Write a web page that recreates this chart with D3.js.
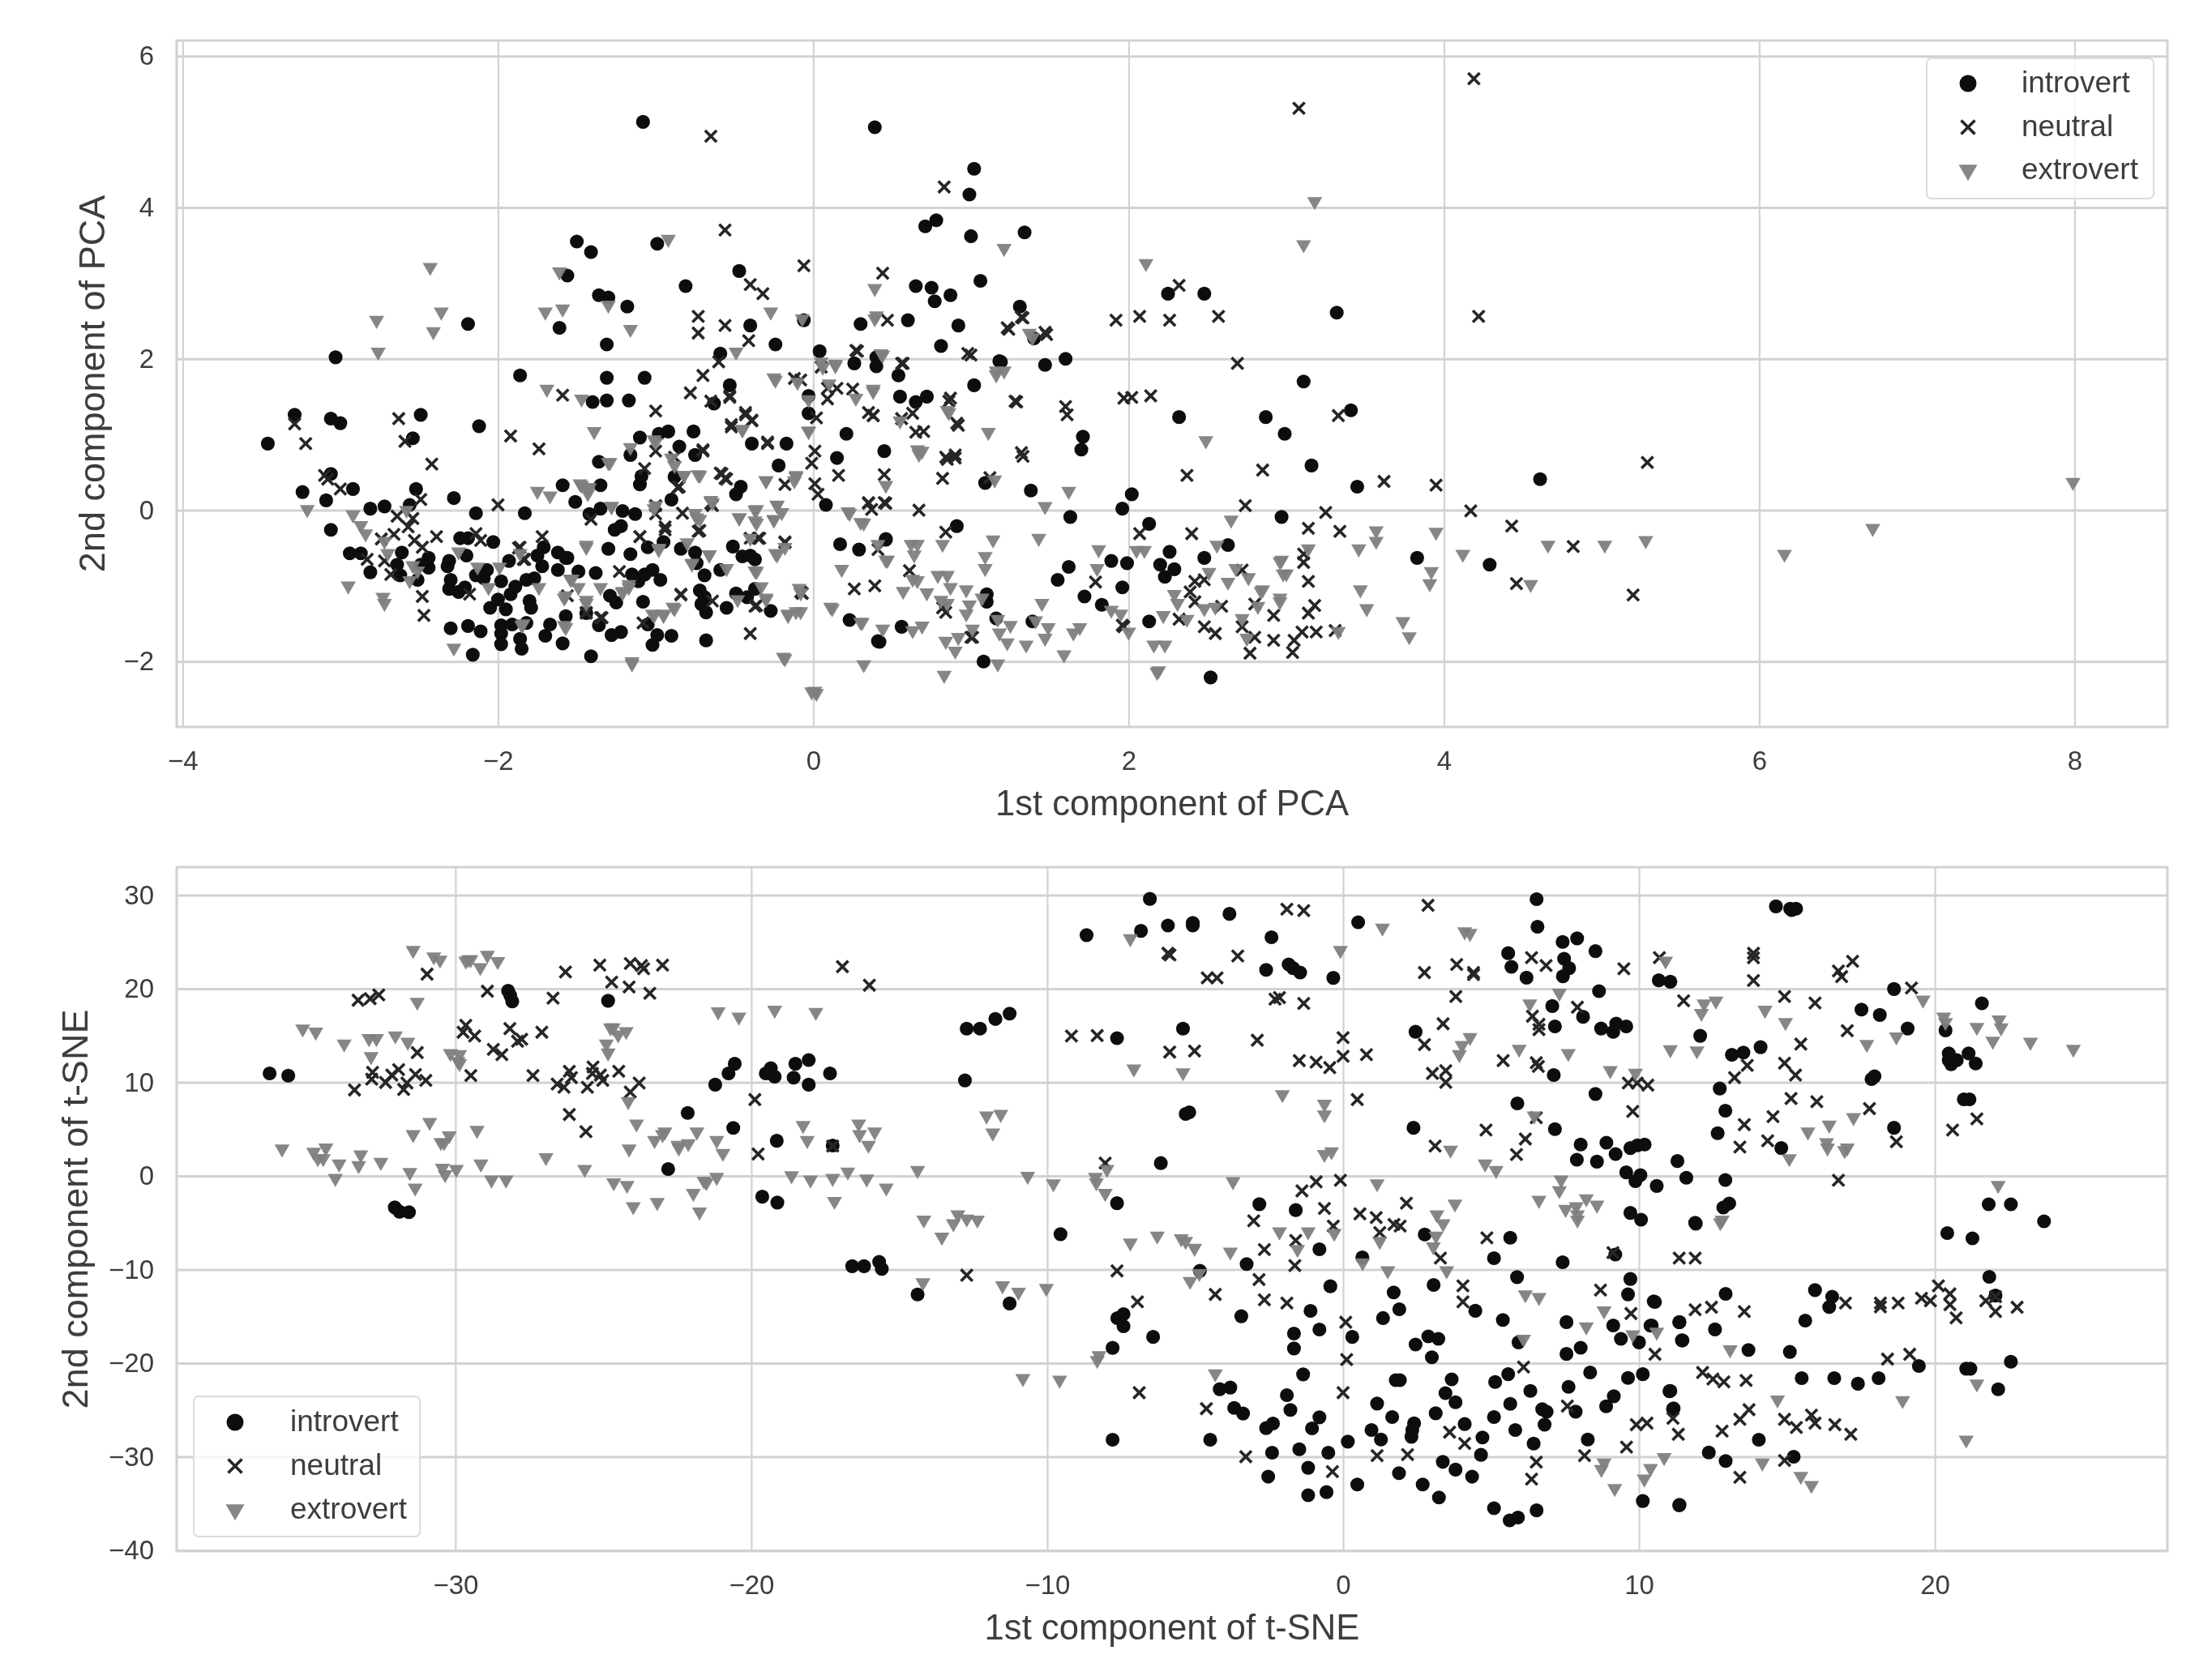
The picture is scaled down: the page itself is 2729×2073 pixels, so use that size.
<!DOCTYPE html>
<html>
<head>
<meta charset="utf-8">
<script src="https://cdn.jsdelivr.net/npm/d3@7"></script>
<style>
  html, body { margin: 0; padding: 0; background: #fff; }
  svg { display: block; filter: blur(0.7px); font-family: "Liberation Sans", Arial, sans-serif; }
</style>
</head>
<body>
<div id="chart"></div>
<script>
//********************************************************************//
//                    DATA
//********************************************************************//
var classNames = ["introvert", "neutral", "extrovert"];

var pcaXTicks = [-4, -2, 0, 2, 4, 6, 8];
var pcaYTicks = [-2, 0, 2, 4, 6];
var tsneXTicks = [-30, -20, -10, 0, 10, 20];
var tsneYTicks = [-40, -30, -20, -10, 0, 10, 20, 30];

var pcaIntrovert = [[-1.08,5.13],[-0.99,3.52],[-1.5,3.55],[-1.41,3.41],[-1.56,3.1],[-1.36,2.84],[-1.3,2.81],[-1.18,2.69],[-0.81,2.96],[-0.47,3.16],
[-2.19,2.46],[-1.61,2.41],[-1.31,2.19],[-0.4,2.44],[-0.24,2.19],[-0.59,2.07],[-3.03,2.02],[-1.86,1.78],[-1.31,1.75],[-1.07,1.75],[-0.53,1.65],[-1.4,1.43],
[-1.31,1.45],[-1.17,1.45],[-0.63,1.41],[-3.29,1.26],[-2.49,1.26],[-3.06,1.21],[-3,1.15],[-2.12,1.11],[-2.54,0.95],[-0.98,1.01],[-0.92,1.04],[-0.76,1.04],
[-1.1,0.96],[-0.39,0.88],[-0.17,0.88],[-3.46,0.88],[-0.85,0.84],[-1.16,0.73],[-0.75,0.73],[-1.36,0.64],[-0.22,0.59],[-3.06,0.48],[-1.09,0.45],[-0.88,0.44],
[-1.1,0.34],[-1.59,0.33],[-1.35,0.33],[-0.46,0.31],[-0.49,0.21],[-3.24,0.24],[-2.92,0.28],[-2.52,0.28],[-3.09,0.13],[-2.28,0.16],[-1.51,0.11],[-0.9,0.14],
[-2.81,0.02],[-2.72,0.05],[-2.56,0.07],[-2.14,-0.04],[-1.83,-0.04],[-1.35,0.02],[-1.42,-0.05],[-1.21,-0.01],[-1.13,-0.05],[-3.06,-0.26],[-1.22,-0.21],[-1.26,-0.26],
[-2.94,-0.57],[-2.87,-0.57],[-2.81,-0.82],[-2.61,-0.56],[-2.64,-0.72],[-2.62,-0.86],[-2.44,-0.63],[-2.44,-0.76],[-2.49,-0.72],[-2.51,-0.92],[-2.24,-0.37],[-2.19,-0.37],
[-2.03,-0.42],[-2.2,-0.6],[-2.31,-0.67],[-2.32,-0.74],[-2.3,-0.92],[-2.31,-1.04],[-2.25,-1.08],[-2.21,-1.02],[-2.14,-0.86],[-2.07,-0.79],[-2.09,-0.9],[-1.93,-0.67],
[-1.98,-0.94],[-2.05,-1.29],[-1.95,-1.31],[-2,-1.18],[-1.92,-1.11],[-1.89,-1.01],[-1.79,-1.29],[-1.8,-1.2],[-1.82,-0.92],[-1.77,-0.9],[-1.72,-0.74],[-1.75,-0.6],
[-1.71,-0.49],[-1.62,-0.56],[-1.57,-0.63],[-1.62,-0.79],[-1.57,-1.4],[-1.67,-1.51],[-1.7,-1.66],[-1.59,-1.76],[-2.3,-1.56],[-2.19,-1.53],[-2.11,-1.6],[-1.98,-1.52],
[-1.91,-1.51],[-1.98,-1.63],[-1.98,-1.77],[-1.86,-1.7],[-1.85,-1.83],[-2.16,-1.91],[-1.82,-1.49],[-1.3,-0.51],[-1.16,-0.58],[-1.05,-0.49],[-0.95,-0.42],[-0.84,-0.51],
[-0.75,-0.56],[-0.74,-0.7],[-0.51,-0.48],[-0.4,-0.6],[-0.37,-0.65],[-0.45,-0.61],[-0.59,-0.79],[-0.69,-0.86],[-1.49,-0.81],[-1.38,-0.83],[-1.56,-0.63],[-1.15,-0.85],
[-1.11,-0.94],[-1.07,-0.85],[-1.02,-0.79],[-0.97,-0.92],[-1.29,-1.13],[-1.25,-1.22],[-1.08,-1.21],[-0.72,-1.06],[-0.69,-1.15],[-0.71,-1.24],[-0.68,-1.35],[-0.55,-1.29],
[-0.49,-1.1],[-0.42,-1.15],[-0.37,-1.04],[-0.27,-1.33],[-1.44,-1.36],[-1.36,-1.52],[-1.28,-1.65],[-1.22,-1.61],[-1.05,-1.51],[-0.99,-1.65],[-1.02,-1.78],[-0.9,-1.66],
[-0.68,-1.72],[-1.41,-1.93],[0.17,-0.45],[0.29,-0.52],[0.46,-0.38],[0.08,0.07],[0.23,-1.45],[0.41,-1.73],[0.15,0.69],[-0.06,2.51],[0.04,2.1],[0.26,1.94],
[0.4,2.02],[0.4,1.9],[0.54,1.78],[0.3,2.46],[0.6,2.51],[0.65,2.96],[0.75,2.94],[0.77,2.76],[0.87,2.84],[0.92,2.44],[0.81,2.17],[1.06,3.03],
[1,3.62],[1.34,3.67],[0.71,3.75],[0.78,3.83],[1.31,2.69],[1.4,2.27],[1.18,1.97],[1.47,1.92],[1.02,1.65],[-0.03,1.51],[-0.03,1.28],[0.55,1.5],
[0.65,1.43],[0.72,1.5],[0.21,1.01],[0.45,0.78],[0.39,5.06],[1.02,4.51],[0.99,4.17],[3.32,2.61],[2.48,2.86],[2.25,2.86],[1.19,1.96],[1.6,2],
[3.11,1.7],[3.41,1.32],[2.32,1.23],[2.87,1.23],[2.99,1.01],[1.71,0.97],[1.7,0.8],[3.16,0.59],[4.61,0.41],[3.45,0.31],[2.02,0.21],[1.96,0.02],
[2.13,-0.18],[1.63,-0.09],[2.97,-0.09],[0.91,-0.21],[1.38,0.26],[1.09,0.36],[2.63,-0.46],[0.46,-0.39],[2.26,-0.55],[2.48,-0.63],[1.89,-0.67],[1.99,-0.7],
[2.2,-0.72],[2.29,-0.78],[2.23,-0.88],[1.62,-0.75],[1.55,-0.92],[1.96,-1.02],[1.72,-1.14],[1.83,-1.25],[1.1,-1.21],[1.16,-1.43],[1.39,-1.47],[2.13,-1.47],
[3.83,-0.63],[4.29,-0.72],[2.52,-2.21],[1.08,-2],[0.56,-1.54],[0.42,-1.74],[1.1,-1.11]];

var pcaNeutral = [[-0.65,4.94],[-0.56,3.7],[-0.4,2.98],[-0.32,2.86],[-0.06,3.23],[-0.73,2.56],[-0.73,2.34],[-0.56,2.44],[-0.41,2.24],[-0.6,1.96],
[-0.7,1.78],[-0.78,1.55],[-0.53,1.49],[-1,1.31],[-0.43,1.26],[-0.39,1.18],[-0.52,1.1],[-3.29,1.14],[-3.22,0.88],[-2.63,1.21],[-2.59,0.91],[-1.92,0.98],
[-1.74,0.81],[-2.42,0.61],[-1.59,1.52],[-0.29,0.88],[-0.7,0.78],[-1,0.78],[-1.07,0.55],[-0.58,0.48],[-0.55,0.41],[-0.18,0.34],[-0.85,0.31],[-3.08,0.41],
[-3,0.28],[-2.49,0.14],[-2,0.07],[-1,0.06],[-0.83,-0.04],[-0.65,0.09],[-1.41,-0.12],[-1,-0.05],[-0.73,-0.28],[-0.94,-0.26],[-1.1,-0.35],[-0.35,-0.37],
[-0.4,-0.37],[-2.39,-0.35],[-1.72,-0.35],[-0.18,-0.43],[-1.87,-0.5],[-1.84,-0.65],[-1.23,-0.81],[-0.84,-1.12],[-1.44,-1.36],[-1.34,-1.42],[-1.08,-1.49],[-0.4,-1.63],
[-0.36,-1.26],[-0.08,-1.08],[-3.1,0.46],[-2.64,-0.08],[-2.54,-0.11],[-2.57,-0.22],[-2.66,-0.32],[-2.74,-0.38],[-2.53,-0.4],[-2.48,-0.49],[-2.83,-0.65],[-2.72,-0.67],
[-2.68,-0.85],[-2.48,-1.14],[-2.47,-1.39],[-2.14,-0.31],[-2.11,-0.4],[-2.18,-1.11],[-1.86,-0.49],[-1.83,-0.65],[-0.86,0.3],[-0.59,0.49],[-0.56,0.42],[-0.01,0.62],
[0.01,0.35],[0.03,0.21],[0.16,0.46],[0.35,0.1],[0.37,0.01],[0.45,0.1],[0.45,0.47],[0.41,-0.52],[-0.64,0.06],[-0.94,-0.22],[-1.1,-0.35],[-0.72,-0.27],
[-0.34,-0.37],[-0.18,-0.42],[-0.84,-1.11],[-0.07,-1.1],[-0.37,-1.27],[-1.35,-1.42],[-1.44,-1.35],[-1.56,-1.13],[-0.64,-1.2],[0.26,-1.04],[0.39,-1],[-0.12,1.74],
[-0.08,1.72],[0.05,1.89],[0.27,2.11],[0.44,3.13],[0.47,2.51],[0.56,1.94],[0.98,2.07],[1.23,2.41],[1.32,2.55],[1.47,2.35],[0.87,1.48],[1.28,1.44],
[0.91,1.15],[0.15,1.61],[0.09,1.61],[0.09,1.47],[0.25,1.6],[0.35,1.29],[0.38,1.25],[0.63,1.28],[0.56,1.21],[0.65,1.03],[0.7,1.04],[0.02,1.22],
[-0.43,1.29],[-0.39,1.19],[-0.52,1.13],[-0.65,1.44],[-0.53,1.51],[-0.29,0.9],[-0.7,0.8],[0.01,0.78],[-0.88,0.7],[0.84,0.7],[0.9,0.73],[1.32,0.76],
[4.19,5.7],[3.08,5.31],[0.83,4.27],[2.32,2.97],[1.24,2.39],[1.33,2.54],[1.48,2.32],[1.92,2.51],[2.07,2.56],[2.26,2.51],[2.57,2.56],[4.22,2.56],
[2.69,1.94],[1,2.05],[1.29,1.43],[1.6,1.37],[1.61,1.26],[1.97,1.48],[2.02,1.49],[2.14,1.51],[3.33,1.25],[0.92,1.12],[0.86,1.44],[0.38,1.25],
[2.85,0.53],[2.37,0.46],[3.62,0.38],[3.95,0.33],[5.29,0.63],[2.74,0.06],[3.25,-0.03],[4.17,-0.01],[4.43,-0.21],[3.14,-0.24],[3.34,-0.28],[2.4,-0.31],
[2.07,-0.31],[4.82,-0.48],[4.46,-0.97],[5.2,-1.12],[0.82,0.42],[1.12,0.43],[0.67,0],[0.35,0.09],[0.46,0.09],[0.57,1.94],[0.28,2.1],[1.79,-0.95],
[1.97,-1.54],[0.82,-1.29],[1,-1.68],[0.61,-0.8],[2.42,-0.94],[2.48,-0.92],[2.39,-1.08],[2.42,-1.21],[2.48,-1.54],[2.55,-1.63],[2.8,-1.68],[2.77,-1.89],
[2.92,-1.72],[3.04,-1.88],[3.05,-1.72],[3.1,-1.61],[3.19,-1.61],[3.31,-1.59],[2.92,-1.39],[2.8,-1.24],[3.18,-1.26],[3.14,-1.36],[3.14,-0.94],[3.11,-0.69],
[3.11,-0.58],[2.72,-1.54],[1.96,-1.52],[0.85,0.67],[0.9,0.69],[1.33,0.71],[0.84,-0.29],[2.32,-1.44],[2.59,-1.27],[2.72,-0.79],[0.84,-1.35],[1.01,-1.68]];

var pcaExtrovert = [[-2.43,3.22],[-0.92,3.59],[-1.61,3.16],[-2.77,2.52],[-2.36,2.63],[-2.41,2.37],[-2.76,2.1],[-1.7,2.63],[-1.59,2.67],[-1.3,2.72],
[-1.16,2.4],[-0.27,2.63],[-0.07,2.54],[-0.49,2.1],[-1.69,1.61],[-1.47,1.48],[-0.24,1.73],[-0.1,1.7],[-0.45,1.07],[-1.39,1.05],[-1.16,0.84],[-1,0.91],
[-1.3,0.64],[-0.82,0.47],[-0.73,0.48],[-0.9,0.7],[-0.3,0.4],[-0.11,0.45],[-0.03,1.05],[-1.75,0.26],[-1.67,0.2],[-1.47,0.34],[-1.42,0.31],[-1.43,0.23],
[-3.21,0.02],[-1.28,0.06],[-1,0.07],[-0.64,0.11],[-0.47,-0.09],[-0.36,0.02],[-0.36,-0.16],[-0.23,0.07],[-0.25,-0.12],[-0.74,-0.09],[-2.92,-0.05],[-2.87,-0.19],
[-2.84,-0.3],[-2.95,-0.99],[-2.73,-1.14],[-2.72,-1.22],[-1.44,-0.48],[-0.66,-0.58],[-0.23,-0.58],[-0.18,-0.48],[-0.36,-0.8],[-0.3,-1.15],[-0.77,-0.69],[-0.98,-0.51],
[-1.54,-0.9],[-1.57,-1.12],[-1.57,-1.54],[-1.44,-1.22],[-1.21,-1.08],[-1.17,-1.01],[-1.02,-1.36],[-0.95,-1.36],[-0.88,-1.29],[-1.85,-1.51],[-2.28,-1.81],[-1.15,-2.02],
[-0.18,-1.95],[-0.01,-2.39],[-0.16,-1.38],[-0.08,-1.33],[-0.08,-1.08],[-2.58,0.01],[-2.72,-0.4],[-2.7,-0.56],[-2.54,-0.72],[-2.51,-0.79],[-2.56,-0.92],[-2.25,-0.54],
[-1.99,-0.74],[-1.86,-0.56],[-2.13,-0.74],[-2.06,-1.01],[-1.84,-1.49],[-1.58,-1.51],[-1.74,-1.01],[-1.53,-0.9],[-1.58,-1.15],[-1.29,0.64],[-1.48,0.36],[-1.43,0.31],
[-1.43,0.26],[-1.28,0.06],[-1.01,0.03],[-0.88,0.6],[-0.82,0.47],[-0.72,0.47],[-0.75,-0.03],[-0.72,-0.11],[-0.65,0.14],[-0.47,-0.09],[-0.37,0.01],[-0.37,-0.13],
[-0.23,0.08],[-0.2,-0.02],[-0.25,-0.11],[-0.3,0.4],[-0.11,0.47],[-0.12,0.4],[-1.44,-0.45],[-0.98,-0.49],[-0.8,-0.42],[-0.66,-0.58],[-0.77,-0.7],[-0.4,-0.36],
[-0.24,-0.56],[-0.55,-0.76],[-0.37,-0.79],[-0.33,-1],[-0.3,-1.17],[-1.54,-0.9],[-1.49,-1.01],[-1.44,-1.18],[-1.35,-1.01],[-1.17,-0.97],[-1.21,-1.06],[-0.89,-1.27],
[-1.01,-1.38],[-0.95,-1.38],[-0.48,-1.17],[-0.16,-1.36],[-0.11,-1.33],[-0.09,-1.02],[-1.15,-1.99],[-0.19,-1.93],[0.01,-2.38],[0.11,-1.27],[0.18,-0.77],[0.3,-0.15],
[0.22,-0.01],[0.3,-1.47],[0.44,-1.56],[0.46,-0.65],[0.41,-0.44],[-0.25,1.76],[0.39,2.94],[0.4,2.58],[0.05,1.97],[0.14,1.94],[0.43,2.08],[1.21,3.47],
[1.37,2.35],[1.16,1.85],[1.21,1.85],[0.38,1.61],[0.1,1.68],[-0.03,1.47],[0.27,1.49],[0.85,1.33],[1.11,1.04],[-0.03,1.06],[-0.45,1.08],[-1.01,0.94],
[0.66,0.81],[0.69,0.79],[3.18,4.09],[3.11,3.52],[2.11,3.27],[0.39,2.54],[1.39,2.29],[0.44,2.06],[0.14,1.92],[0.06,1.9],[1.16,1.8],[0.38,1.58],
[0.86,1.3],[0.55,1.19],[2.49,0.93],[0.67,0.75],[0.46,0.34],[1.15,0.41],[1.62,0.26],[1.47,0.06],[0.23,-0.03],[0.32,-0.16],[2.65,-0.12],[2.56,-0.45],
[3.14,-0.5],[3.57,-0.26],[3.57,-0.4],[3.46,-0.5],[3.95,-0.28],[4.12,-0.57],[4.66,-0.45],[5.02,-0.45],[5.28,-0.39],[6.16,-0.57],[6.72,-0.23],[7.99,0.38],
[4.55,-0.97],[3.92,-0.8],[3.91,-0.96],[3.47,-1.04],[3.51,-1.29],[3.74,-1.46],[3.78,-1.66],[3.33,-1.59],[2.97,-0.65],[3,-0.83],[2.96,-1.15],[2.85,-1.04],
[1.14,-0.38],[1.43,-0.36],[0.62,-0.44],[0.66,-0.44],[0.64,-0.58],[0.82,-0.44],[0.47,-0.65],[1.09,-0.6],[1.09,-0.76],[1.81,-0.51],[1.8,-0.76],[2.05,-0.52],
[2.1,-0.52],[0.79,-0.85],[0.85,-0.85],[0.87,-1.01],[0.63,-0.9],[0.66,-0.92],[0.57,-1.06],[0.72,-1.08],[0.81,-1.18],[0.85,-1.22],[0.97,-1.04],[1.07,-1.15],
[0.99,-1.24],[0.97,-1.36],[1.45,-1.22],[1.17,-1.43],[1.25,-1.51],[1.18,-1.61],[1.23,-1.74],[1.41,-1.45],[1.49,-1.54],[1.47,-1.68],[1.35,-1.77],[1.59,-1.9],
[1.69,-1.54],[1.65,-1.61],[1.01,-1.56],[0.84,-1.72],[0.92,-1.67],[0.9,-1.85],[0.63,-1.58],[0.69,-1.52],[1.17,-2.02],[0.83,-2.17],[2.19,-2.11],[2.16,-1.77],
[2.23,-1.77],[2.22,-1.38],[2,-1.6],[1.89,-1.31],[1.95,-1.36],[2.29,-1.1],[2.31,-1.22],[2.37,-1.43],[2.48,-1.29],[2.55,-1.27],[2.51,-0.81],[2.63,-0.94],
[2.68,-0.76],[2.76,-0.88],[2.84,-1.06],[2.82,-1.26],[2.96,-0.67],[2.98,-0.83],[2.96,-1.2],[2.72,-1.42],[2.75,-1.68],[2.18,-2.13],[0.32,-2.03],[0.02,-2.41],
[0.12,-1.29],[0.31,-1.47]];

var tsneIntrovert = [[-36.28,10.95],[-35.65,10.72],[-32.05,-3.37],[-31.89,-3.82],[-31.57,-3.88],[-28.22,19.79],[-28.15,19.3],[-28.08,18.65],[-24.84,18.71],[-22.81,0.74],
[-22.15,6.73],[-21.22,9.75],[-20.77,10.95],[-20.56,11.98],[-20.61,5.13],[-19.14,3.76],[-19.63,-2.22],[-19.12,-2.85],[-19.51,10.95],[-19.34,11.52],[-19.21,10.61],[-18.57,10.5],
[-18.51,11.98],[-18.06,12.38],[-18.06,9.75],[-17.34,10.95],[-17.25,3.25],[-12.72,15.74],[-12.27,15.74],[-11.75,16.77],[-11.27,17.34],[-12.78,10.21],[-16.59,-9.64],[-16.19,-9.64],
[-15.68,-9.18],[-15.59,-9.93],[-14.38,-12.66],[-11.27,-13.63],[-9.55,-6.22],[-6.16,1.37],[-5.32,6.62],[-5.2,6.8],[-7.64,14.72],[-5.41,15.74],[-8.67,25.73],[-6.83,26.18],
[-6.53,29.6],[-5.92,26.75],[-5.08,27.04],[-5.08,26.75],[-3.84,28],[-2.42,25.5],[-2.6,22.02],[-1.84,22.6],[-1.69,22.2],[-1.45,21.73],[-0.33,21.16],[0.51,27.1],
[-7.64,-2.91],[-7.63,-15.2],[-7.42,-14.76],[-7.42,-16.06],[-6.42,-17.2],[-7.79,-18.37],[-7.79,-28.18],[-4.84,-10.14],[-3.26,-9.42],[-2.83,-3.02],[-1.6,-3.65],[-0.8,-7.84],
[-0.43,-11.79],[-3.44,-14.99],[-1.1,-14.42],[-0.8,-16.41],[-1.66,-16.84],[-1.66,-18.43],[-1.35,-21.2],[-1.9,-23.42],[-1.78,-25],[-4.17,-22.78],[-3.81,-22.61],[-3.68,-24.78],
[-3.38,-25.38],[-0.8,-25.79],[-1.05,-26.97],[-2.6,-26.94],[-2.37,-26.45],[-4.49,-28.18],[-2.4,-29.57],[-1.48,-29.2],[-0.5,-29.57],[-1.18,-31.18],[-2.53,-32.13],[-1.18,-34.12],
[-0.56,-33.78],[0.48,-32.97],[0.31,-17.2],[0.16,-28.39],[1.71,-12.45],[1.9,-14.24],[1.35,-15.19],[2.76,-6.25],[0.65,-8.7],[3.06,-11.64],[2.45,-18.01],[2.88,-17.15],
[3.22,-17.41],[3,-19.37],[1.78,-21.82],[1.92,-21.82],[3.67,-21.73],[3.46,-23.2],[3.8,-24.18],[1.15,-24.32],[1.66,-25.76],[0.96,-27.15],[1.28,-28.16],[2.4,-26.43],
[2.34,-27.15],[2.31,-27.87],[3.13,-25.36],[4.11,-26.51],[4.71,-27.95],[4.66,-29.8],[3.37,-30.55],[3.8,-31.38],[4.36,-32.13],[1.89,-31.76],[2.69,-32.97],[3.24,-34.35],
[4.47,-14.41],[5.4,-15.39],[5.65,-6.6],[5.1,-8.79],[7.42,-9.22],[5.88,-10.81],[7.55,-15.62],[5.93,-17.78],[8.03,-18.36],[7.55,-19.02],[8.35,-21],[5.58,-21.18],
[5.14,-22.02],[9.63,-21.58],[10.13,-21.18],[7.62,-22.54],[6.33,-22.97],[5.65,-24.35],[9.15,-23.54],[8.89,-24.61],[6.73,-24.93],[6.88,-25.2],[6.81,-26.57],[5.1,-25.76],
[5.82,-27.15],[6.44,-28.59],[7.86,-25.19],[8.27,-28.16],[9.13,-15.97],[9.39,-17.41],[10,-17.78],[9.71,-11.01],[9.63,-12.65],[10.5,-13.4],[10.43,-15.97],[11.37,-15.62],
[11.47,-17.58],[11.06,-22.97],[11.17,-24.84],[9.2,-8.4],[9.71,-3.95],[10.07,-4.67],[11.92,-5.1],[5.1,-35.5],[5.63,-36.8],[5.91,-36.5],[6.54,-35.73],[10.13,-34.73],
[11.37,-35.13],[6.54,29.57],[6.57,26.62],[7.42,25],[7.91,25.38],[8.53,24.02],[5.58,23.8],[5.69,22.34],[6.2,21.18],[7.47,23.2],[7.64,22.2],[7.43,21.33],[7.07,18.15],
[8.11,17],[8.65,19.74],[7.16,15.98],[8.72,15.75],[9.13,15.4],[9.23,16.27],[9.57,15.98],[2.45,15.4],[7.12,10.78],[8.53,8.76],[5.89,7.75],[2.38,5.14],
[7.16,5],[8.03,3.35],[7.9,1.73],[8.58,1.53],[8.9,3.55],[9.21,2.34],[9.71,2.98],[9.95,3.27],[10.19,3.35],[9.57,0.38],[10.05,0.09],[9.88,-0.55],
[10.6,-1.07],[11.3,1.59],[11.6,-0.2],[10.67,20.9],[11.06,20.75],[12.07,14.97],[14.63,28.8],[15.16,28.4],[15.31,28.55],[15.11,28.55],[18.62,19.97],[17.52,17.77],
[18.14,17.2],[19.08,15.75],[20.36,15.55],[21.59,18.44],[14.11,13.76],[13.53,13.18],[13.14,12.95],[20.47,13.09],[20.55,11.94],[20.74,12.37],[21.14,13.09],[21.38,12.02],
[20.47,12.37],[17.86,10.35],[17.96,10.64],[12.73,9.34],[12.92,6.97],[12.66,4.57],[20.98,8.18],[21.17,8.18],[18.62,5.14],[14.81,2.98],[12.92,-0.43],[12.85,-3.38],
[13.05,-2.95],[21.82,-3.03],[22.57,-3.03],[23.69,-4.85],[20.42,-6.1],[21.27,-6.67],[21.84,-10.78],[22.05,-12.78],[22.57,-19.85],[21.06,-20.6],[21.2,-20.6],[22.14,-22.8],
[19.46,-20.3],[18.1,-21.6],[17.4,-22.2],[16.6,-21.6],[15.5,-21.6],[15.1,-18.8],[13.7,-18.6],[15.62,-15.46],[15.95,-12.2],[16.53,-12.9],[16.43,-14],[12.93,-12.6],
[12.57,-16.4],[11.45,-17.57],[11.36,-15.63],[10.54,-13.46],[10.39,-16],[11.03,-23],[11.15,-24.9],[14.05,-28.18],[12.36,-29.55],[12.93,-30.46],[15.23,-30],[11.36,-35.2],
[11.9,-5]];

var tsneNeutral = [[-33.29,18.77],[-32.88,18.94],[-32.59,19.34],[-30.96,21.56],[-28.92,19.74],[-26.7,19],[-26.28,21.79],[-25.12,22.53],[-24.72,20.71],[-24.13,20.19],
[-24.09,22.7],[-23.71,22.48],[-23.64,22.13],[-23,22.53],[-23.43,19.51],[-31.29,13.18],[-29.65,16.09],[-29.74,15.35],[-29.35,14.95],[-28.72,13.52],[-28.43,12.95],[-28.16,15.74],
[-27.9,14.38],[-27.76,14.6],[-27.08,15.35],[-32.8,11.07],[-32.83,10.33],[-32.36,9.98],[-32.15,10.78],[-31.92,11.35],[-31.64,9.93],[-31.75,9.24],[-31.35,10.84],[-31,10.21],
[-33.41,9.18],[-29.48,10.72],[-27.38,10.72],[-26.56,9.81],[-26.33,9.47],[-26.15,11.18],[-26.08,10.5],[-25.54,9.47],[-25.35,11.64],[-25.37,10.95],[-25.02,10.21],[-25.1,10.78],
[-24.48,11.18],[-23.79,9.93],[-24.09,8.96],[-26.15,6.56],[-25.59,4.73],[-19.88,8.16],[-19.77,2.34],[-16.92,22.36],[-16.01,20.37],[-17.25,3.19],[-9.18,14.95],[-8.31,15],
[-5.86,13.23],[-5.02,13.35],[-5.92,23.79],[-5.85,23.6],[-3.56,23.5],[-4.59,21.16],[-4.26,21.16],[-1.9,28.5],[-1.33,28.35],[-2.9,14.5],[-2.3,18.88],[-2.15,19.05],
[-1.33,18.43],[-1.48,12.32],[-0.91,12.15],[-0.45,11.58],[0,12.78],[0,14.78],[0.79,12.95],[0.48,8.16],[2.87,28.92],[2.75,21.73],[3.84,22.59],[4.41,21.73],
[4.41,21.5],[3.81,19.17],[3.38,16.26],[2.75,14.03],[3.02,10.95],[3.47,11.24],[3.47,10],[5.41,12.32],[6.53,12.1],[6.6,11.7],[6.37,23.33],[6.86,22.48],
[6.4,17.06],[6.62,16.2],[6.62,15.63],[7.92,18.03],[9.49,22.13],[10.69,23.33],[11.51,18.71],[13.87,23.79],[13.87,23.3],[13.87,20.88],[14.92,19.17],[15.95,18.48],
[16.74,21.9],[16.85,21.3],[17.22,22.93],[19.21,20.08],[17.04,15.52],[15.47,14.09],[14.92,12.04],[15.29,10.78],[13.66,11.81],[13.23,10.5],[15.14,8.27],[16.01,7.93],
[17.79,7.19],[14.53,6.33],[13.56,5.48],[13.41,3.08],[14.35,3.76],[9.79,6.9],[9.64,9.93],[9.94,9.93],[10.3,9.7],[6.53,6.22],[4.83,4.9],[6.16,3.94],
[5.86,2.28],[3.11,3.19],[16.74,-0.46],[18.7,3.65],[20.6,4.9],[21.42,6.1],[-8.04,1.37],[-0.91,-0.63],[-0.09,-0.46],[-1.39,-1.6],[-0.63,-3.48],[-3.02,-4.79],
[-0.33,-5.36],[0.57,-4.05],[1.12,-4.45],[1.72,-5.19],[1.93,-5.36],[2.14,-2.91],[1.24,-6.05],[4.86,-6.62],[3.29,-8.78],[-1.6,-6.9],[-2.66,-7.87],[-1.63,-9.58],
[-2.84,-11.07],[-2.66,-13.23],[-1.9,-13.58],[-4.32,-12.66],[-6.95,-13.46],[-7.64,-10.15],[-12.72,-10.61],[0.09,-15.63],[0.12,-19.62],[0,-23.16],[-6.89,-23.16],[-4.62,-24.87],
[-3.29,-30],[1.15,-29.89],[2.18,-29.78],[-0.36,-31.6],[3.6,-27.38],[4.11,-28.58],[4.05,-11.75],[4.05,-13.46],[6.37,-32.4],[6.53,-30.58],[6.1,-20.42],[7.58,-24.59],
[8.16,-29.89],[9.58,-28.98],[8.7,-12.2],[9.73,-14.7],[9.12,-8.2],[11.36,-8.78],[11.9,-8.78],[9.91,-26.58],[10.27,-26.41],[11.15,-25.9],[11.33,-27.6],[10.54,-19.05],
[11.9,-14.3],[12.45,-14.03],[13.56,-14.49],[12.15,-21],[12.5,-21.7],[12.87,-22],[13.62,-21.85],[12.81,-27.27],[13.41,-26],[13.72,-24.98],[13.41,-32.2],[14.92,-26],
[15.32,-26.87],[15.83,-25.56],[15.95,-26.41],[16.62,-26.58],[17.16,-27.6],[14.92,-30.4],[16.98,-13.58],[18.16,-13.58],[18.16,-14],[18.76,-13.58],[19.55,-13.06],[19.85,-13.35],
[20.12,-11.75],[20.51,-12.6],[20.51,-13.75],[20.72,-15.17],[21.72,-13.35],[22.05,-12.9],[22.05,-14.49],[22.78,-14.03],[18.4,-19.57],[19.15,-19.05]];

var tsneExtrovert = [[-31.43,24.19],[-30.73,23.5],[-30.52,23.16],[-29.56,23.2],[-29.48,23.2],[-29.65,23.05],[-28.92,23.67],[-28.57,23],[-29.16,22.36],[-31.29,18.65],
[-35.16,15.8],[-34.72,15.46],[-33.76,14.2],[-32.92,14.77],[-32.67,14.77],[-32.85,12.84],[-32.03,15.06],[-31.61,14.38],[-30.17,13.18],[-29.86,13.06],[-29.91,12.32],[-29.86,12.1],
[-24.76,15.92],[-24.67,15.92],[-24.23,15.52],[-24.5,15.17],[-24.9,14.2],[-24.84,13.23],[-24.16,8.04],[-21.12,17.63],[-20.42,17.06],[-19.21,17.8],[-30.87,5.82],[-31.43,4.51],
[-30.21,4.39],[-30.49,3.65],[-30.38,3.65],[-29.27,4.96],[-23.88,5.65],[-24.13,2.97],[-22.92,4.79],[-23,4.51],[-23.27,3.88],[-22.48,3.37],[-22.45,3.08],[-22.13,3.54],
[-21.84,4.79],[-21.17,3.88],[-20.96,2.51],[-18.25,5.48],[-18.11,3.88],[-35.86,2.97],[-34.79,2.62],[-34.65,1.94],[-34.38,3.08],[-34.47,1.94],[-33.93,1.37],[-34.06,-0.17],
[-33.2,2.34],[-33.27,1.2],[-32.52,1.54],[-31.54,0.46],[-31.36,-1.2],[-30.44,0.91],[-30.35,0.23],[-29.97,0.8],[-29.14,1.37],[-28.78,-0.34],[-28.29,-0.34],[-26.94,2.05],
[-25.63,0.8],[-24.65,-0.63],[-24.2,-0.91],[-23.99,-3.19],[-23.18,-2.74],[-21.96,-1.77],[-21.75,-3.76],[-21.52,-0.63],[-21.6,-0.46],[-21.17,-0.06],[-18.64,0.11],[-17.82,17.57],
[-16.37,5.65],[-16.34,4.51],[-15.83,4.79],[-16.04,3.37],[-18,-0.34],[-17.25,-0.17],[-16.74,0.51],[-16.1,-0.23],[-15.44,-1.2],[-17.19,-2.62],[-14.38,0.68],[-12.05,6.5],
[-11.57,6.67],[-11.84,4.68],[-10.66,0.06],[-9.79,-0.74],[-8.37,-0.06],[-8.34,-0.63],[-8.04,-1.77],[-7.98,0.8],[-14.17,-4.62],[-13.56,-6.45],[-13.17,-5.02],[-13.02,-4.05],
[-12.72,-4.51],[-12.36,-4.62],[-7.19,-7.07],[-6.28,-6.33],[-5.47,-6.62],[-5.32,-6.9],[-5.02,-7.64],[-3.81,-8.04],[-3.72,-0.51],[-4.86,-10.33],[-5.17,-11.18],[-14.2,-11.3],
[-11.51,-11.64],[-10.97,-12.32],[-10.03,-11.92],[-8.31,-19.62],[-8.25,-19.1],[-10.82,-21.56],[-9.58,-21.73],[-7.19,25.44],[-7.07,11.52],[-5.41,11.12],[-2.05,8.78],[-0.63,7.76],
[-0.63,6.62],[-0.09,24.19],[1.33,26.58],[4.11,26.18],[4.29,26],[4.02,14.03],[4.29,14.89],[3.93,13.06],[5.95,13.63],[7.61,13.18],[7.31,19.62],[6.31,18.48],
[9.03,11.35],[9.88,11.07],[11.06,13.58],[11.96,13.46],[10.9,23.05],[12.2,18.48],[12.6,18.77],[12.11,17.46],[14.26,17.8],[14.95,16.49],[17.7,14.15],[18.7,14.95],
[19.6,18.88],[20.3,17.06],[20.36,16.49],[21.42,15.97],[22.17,16.77],[22.24,15.92],[21.96,14.49],[23.23,14.38],[24.68,13.63],[15.71,4.79],[16.43,5.53],[16.34,3.65],
[16.37,3.08],[17.04,3.08],[16.95,2.8],[17.25,6.33],[15.08,1.94],[12.81,-4.62],[12.75,-4.9],[6.46,6.5],[4.8,1.37],[5.17,0.68],[-0.63,2.4],[-0.39,2.68],
[3.63,2.85],[1.15,-0.74],[7.37,-0.34],[7.31,-1.48],[6.62,-2.51],[7.52,-3.48],[7.88,-3.2],[7.92,-4.05],[7.92,-4.62],[8.22,-2.34],[8.58,-3.02],[3.78,-2.91],
[3.17,-4.05],[3.38,-5.02],[3.14,-6.33],[3.05,-7.47],[3.5,-10.04],[-1.18,-5.88],[-2.15,-5.88],[-0.3,-6.05],[-1.54,-7.76],[1.24,-6.9],[0.66,-9.18],[1.51,-10.04],
[6.16,-12.6],[6.62,-12.9],[8.82,-14.32],[8.22,-16.03],[9.79,-16.88],[6.1,-17.34],[10.6,-16.6],[13.08,-18.48],[-4.32,-21.05],[14.68,-23.84],[18.91,-23.9],[21.42,-22.13],
[21.06,-28.12],[8.82,-30.58],[8.73,-31.26],[9.18,-33.3],[10.39,-31.15],[10.18,-32.29],[10.85,-30],[14.17,-30.58],[15.47,-32],[15.83,-32.97],[22.14,-0.91]];

//********************************************************************//
//                    DRAWING
//********************************************************************//
var svg = d3.select("#chart").append("svg")
            .attr("width", 2729)
            .attr("height", 2073);

var inkDark = "#3d3d3d";
var gridColor = "#d2d2d2";

// one symbol generator per class, same order as classNames
function markerPath(i, big) {
  if (i === 0) return d3.symbol().type(d3.symbolCircle).size(big ? 346 : 230)();
  if (i === 1) return d3.symbol().type(d3.symbolTimes).size(big ? 190 : 135)();
  return d3.symbol().type(d3.symbolTriangle).size(big ? 230 : 150)();
}

function styleMarker(sel, i) {
  if (i === 0) {
    sel.attr("fill", "#0d0d0d").attr("stroke", "none");
  } else if (i === 1) {
    sel.attr("fill", "none").attr("stroke", "#262626").attr("stroke-width", 3.6);
  } else {
    sel.attr("fill", "#7f7f7f").attr("stroke", "none").attr("opacity", 0.95);
  }
}

function drawPanel({series, xDomain, yDomain, xTicks, yTicks, top, bottom,
                    xLabel, yLabel, yLabelX, legendBox, legendRows, xLabelY}) {
  var left = 218, right = 2674;
  var x = d3.scaleLinear().domain(xDomain).range([left, right]);
  var y = d3.scaleLinear().domain(yDomain).range([bottom, top]);

  var g = svg.append("g");

  // grid + tick labels come from the axes
  var xAxis = g.append("g")
               .attr("transform", "translate(0," + bottom + ")")
               .call(d3.axisBottom(x).tickValues(xTicks).tickSize(top - bottom).tickPadding(30));
  var yAxis = g.append("g")
               .attr("transform", "translate(" + left + ",0)")
               .call(d3.axisLeft(y).tickValues(yTicks).tickSize(left - right).tickPadding(28));

  xAxis.select(".domain").remove();
  yAxis.select(".domain").remove();
  xAxis.selectAll("line").attr("stroke", gridColor).attr("stroke-width", 2.2);
  yAxis.selectAll("line").attr("stroke", gridColor).attr("stroke-width", 3);
  xAxis.selectAll("text").attr("font-size", 33).attr("fill", inkDark);
  yAxis.selectAll("text").attr("font-size", 33).attr("fill", inkDark);
  xAxis.attr("font-family", null);
  yAxis.attr("font-family", null);

  // frame
  g.append("rect")
   .attr("x", left).attr("y", top)
   .attr("width", right - left).attr("height", bottom - top)
   .attr("fill", "none").attr("stroke", gridColor).attr("stroke-width", 3);

  series.forEach(function(points, i) {
    var path = g.append("g").selectAll("path")
                .data(points)
                .enter()
                .append("path")
                .attr("d", markerPath(i, false))
                .attr("transform", function(d) {
                  return "translate(" + x(d[0]) + "," + y(d[1]) + ")" + (i === 2 ? " rotate(180) translate(0,-1)" : "");
                });
    styleMarker(path, i);
  });

  g.append("text")
   .attr("x", 1446).attr("y", xLabelY)
   .attr("text-anchor", "middle")
   .attr("font-size", 43.6).attr("fill", inkDark)
   .text(xLabel);

  g.append("text")
   .attr("transform", "translate(" + yLabelX + "," + (top + bottom) / 2 + ") rotate(-90)")
   .attr("text-anchor", "middle")
   .attr("font-size", 45).attr("fill", inkDark)
   .text(yLabel);

  // legend
  g.append("rect")
   .attr("x", legendBox.x).attr("y", legendBox.y)
   .attr("width", legendBox.w).attr("height", legendBox.h)
   .attr("rx", 6)
   .attr("fill", "#fff").attr("fill-opacity", 0.8)
   .attr("stroke", "#dcdcdc").attr("stroke-width", 2);

  classNames.forEach(function(name, i) {
    var m = g.append("path")
             .attr("d", markerPath(i, true))
             .attr("transform", "translate(" + legendBox.markerX + "," + legendRows[i] + ")" + (i === 2 ? " rotate(180)" : ""));
    styleMarker(m, i);
    g.append("text")
     .attr("x", legendBox.textX).attr("y", legendRows[i] - 1)
     .attr("dy", "0.32em")
     .attr("font-size", 37).attr("fill", inkDark)
     .text(name);
  });
}

drawPanel({
  series: [pcaIntrovert, pcaNeutral, pcaExtrovert],
  xDomain: [-4.038, 8.589], yDomain: [-2.864, 6.205],
  xTicks: pcaXTicks, yTicks: pcaYTicks,
  top: 50, bottom: 897,
  xLabel: "1st component of PCA", yLabel: "2nd component of PCA",
  yLabelX: 129, xLabelY: 1006,
  legendBox: {x: 2377, y: 72, w: 280, h: 173, markerX: 2428, textX: 2494},
  legendRows: [103, 157, 210]
});

drawPanel({
  series: [tsneIntrovert, tsneNeutral, tsneExtrovert],
  xDomain: [-39.42, 27.86], yDomain: [-40.09, 32.99],
  xTicks: tsneXTicks, yTicks: tsneYTicks,
  top: 1070, bottom: 1914,
  xLabel: "1st component of t-SNE", yLabel: "2nd component of t-SNE",
  yLabelX: 108, xLabelY: 2023,
  legendBox: {x: 239, y: 1723, w: 279, h: 173, markerX: 290, textX: 358},
  legendRows: [1755, 1809, 1863]
});
</script>
</body>
</html>
